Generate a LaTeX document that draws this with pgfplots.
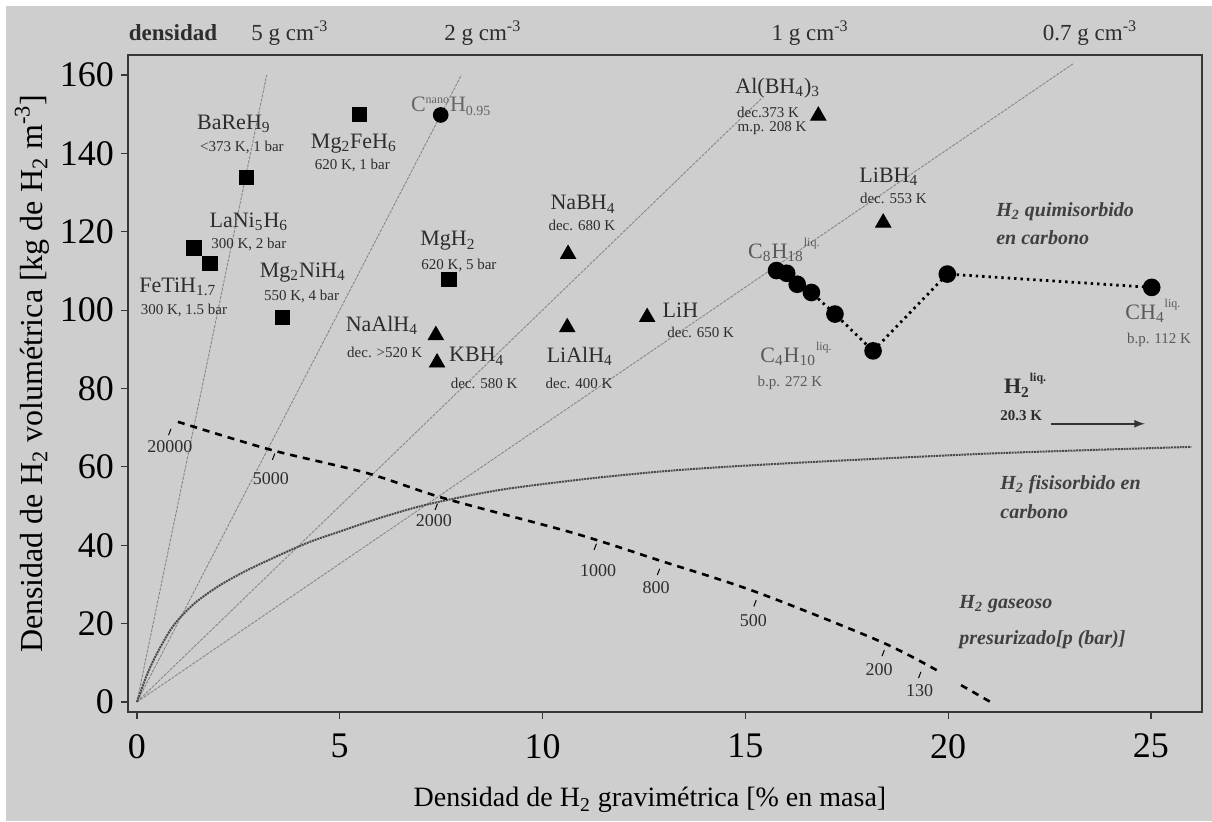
\documentclass[border=0pt]{standalone}
\usepackage{fontspec}
\setmainfont{Liberation Serif}
\usepackage{pgfplots}
\pgfplotsset{compat=1.18}
\definecolor{bg}{RGB}{206,206,206}
\definecolor{frame}{RGB}{55,55,55}
\definecolor{lab}{RGB}{45,45,45}
\definecolor{note}{RGB}{64,64,64}
\definecolor{dens}{RGB}{135,135,135}
\definecolor{phys}{RGB}{75,75,75}

\newcommand{\nm}{\fontsize{11}{12}\selectfont}
\newcommand{\cond}{\fontsize{7.5}{8}\selectfont}
\newcommand{\prs}{\fontsize{9}{10}\selectfont}
\newcommand{\itb}{\fontsize{10}{11}\selectfont\bfseries\itshape}

\begin{document}
\begin{tikzpicture}
\path[use as bounding box] (-64pt,-54.5pt) rectangle (542pt,356pt);
\fill[bg] (-61pt,-54.5pt) rectangle (542pt,353pt);
\begin{axis}[
  scale only axis, width=537pt, height=328.5pt,
  at={(0,0)}, anchor=south west,
  xmin=-0.22, xmax=26.26, ymin=-2.55, ymax=165.1,
  clip=false,
  axis line style={frame, line width=1pt},
  xtick={0,5,...,25}, ytick={0,20,...,160},
  tick align=outside, tick pos=left, major tick length=3.5pt,
  tick style={frame, line width=0.6pt},
  ticklabel style={font=\fontsize{18}{20}\selectfont},
  xticklabel style={yshift=-4pt},
  /pgf/number format/assume math mode=true,
]
% density lines
\addplot[dens, line width=0.45pt, dash pattern=on 1.5pt off 0.6pt] coordinates {(0,0) (3.2,160)};
\addplot[dens, line width=0.45pt, dash pattern=on 1.5pt off 0.6pt] coordinates {(0,0) (8.0,160)};
\addplot[dens, line width=0.45pt, dash pattern=on 1.5pt off 0.6pt] coordinates {(0,0) (15.4,154)};
\addplot[dens, line width=0.45pt, dash pattern=on 1.5pt off 0.6pt] coordinates {(0,0) (23.1,163)};

% physisorbed H2 on carbon
\addplot[phys, line width=1pt, dash pattern=on 1pt off 0.4pt, smooth] coordinates {
  (0,0) (0.25,7) (0.5,12.5) (0.9,19.5) (1.4,25) (2,29.5) (2.6,33) (3.2,36)
  (4.2,40.6) (5,43.5) (6,47) (7,50) (8,52.3) (9,54.2) (10,55.6) (11.4,57.3)
  (13,58.9) (14.5,60) (16.2,61) (18.5,62.2) (21,63.4) (23.5,64.3) (26,65.1)};

% pressurized gas
\addplot[black, line width=1.3pt, dash pattern=on 3.5pt off 3pt, smooth] coordinates {
  (1.01,71.5) (3.32,64.3) (5.68,58.4) (7.57,52.0) (10.77,43.1) (12.86,36.2)
  (15.26,28.1) (18.34,15.4) (19.79,7.7)};
\addplot[black, line width=1.3pt, dash pattern=on 3.5pt off 3pt] coordinates {(20.32,4.3) (21.03,0.1)};
% pressure ticks
\addplot[black, line width=0.5pt] coordinates {(0.78,68.1) (0.84,69.7)};
\addplot[black, line width=0.5pt] coordinates {(3.34,61.8) (3.40,63.4)};
\addplot[black, line width=0.5pt] coordinates {(7.35,49.0) (7.41,50.6)};
\addplot[black, line width=0.5pt] coordinates {(11.27,38.8) (11.33,40.4)};
\addplot[black, line width=0.5pt] coordinates {(12.83,32.4) (12.89,34.0)};
\addplot[black, line width=0.5pt] coordinates {(15.21,24.4) (15.27,26.0)};
\addplot[black, line width=0.5pt] coordinates {(18.37,11.7) (18.43,13.3)};
\addplot[black, line width=0.5pt] coordinates {(19.27,6.1) (19.33,7.7)};

% hydrocarbons
\addplot[black, line width=1.4pt, dash pattern=on 1.2pt off 2pt, mark=*, mark size=3.7pt,
  mark options={solid}] coordinates {
  (15.77,110.1) (16.02,109.4) (16.28,106.6) (16.63,104.5) (17.21,99.0)
  (18.15,89.6) (19.98,109.2) (25.02,105.8)};

% metal hydrides (squares)
\addplot[only marks, mark=square*, mark size=3.6pt, black] coordinates {
  (2.70,133.9) (5.49,149.9) (1.40,115.9) (1.80,111.9) (3.59,98.2) (7.69,107.9)};
% complex hydrides (triangles)
\addplot[only marks, mark=triangle*, mark size=4.4pt, black] coordinates {
  (16.80,149.6) (10.63,114.3) (7.37,93.6) (7.40,86.6) (10.61,95.6) (12.58,98.2) (18.40,122.3)};
% C nano H
\addplot[only marks, mark=*, mark size=3.7pt, black] coordinates {(7.49,149.8)};

% H2 liquid arrow
\addplot[black!80, line width=0.8pt, -latex] coordinates {(22.53,71) (24.85,71)};

% top density labels
\node[font=\fontsize{11.5}{12}\selectfont\bfseries, lab] at (axis cs:0.89,170.7) {densidad};
\node[font=\fontsize{11.5}{12}\selectfont, lab] at (axis cs:3.77,170.7) {5 g cm\textsuperscript{-3}};
\node[font=\fontsize{11.5}{12}\selectfont, lab] at (axis cs:8.53,170.7) {2 g cm\textsuperscript{-3}};
\node[font=\fontsize{11.5}{12}\selectfont, lab] at (axis cs:16.6,170.7) {1 g cm\textsuperscript{-3}};
\node[font=\fontsize{11.5}{12}\selectfont, lab] at (axis cs:23.5,170.7) {0.7 g cm\textsuperscript{-3}};

% compound labels
\node[font=\nm, lab] at (axis cs:2.39,147.6) {BaReH\textsubscript{9}};
\node[font=\cond, lab] at (axis cs:2.59,141.4) {<373 K, 1 bar};
\node[font=\nm, lab] at (axis cs:5.35,142.6) {Mg\textsubscript{2}FeH\textsubscript{6}};
\node[font=\cond, lab] at (axis cs:5.31,136.8) {620 K, 1 bar};
\node[font=\nm, black!60] at (axis cs:7.75,152.0) {C\textsuperscript{\fontsize{6}{6}\selectfont nano}H\textsubscript{\fontsize{7}{7}\selectfont 0.95}};
\node[font=\nm, lab] at (axis cs:2.76,122.6) {LaNi\textsubscript{5}H\textsubscript{6}};
\node[font=\cond, lab] at (axis cs:2.76,116.8) {300 K, 2 bar};
\node[font=\nm, lab] at (axis cs:1.01,106.0) {FeTiH\textsubscript{1.7}};
\node[font=\cond, lab] at (axis cs:1.16,99.8) {300 K, 1.5 bar};
\node[font=\nm, lab] at (axis cs:4.09,109.6) {Mg\textsubscript{2}NiH\textsubscript{4}};
\node[font=\cond, lab] at (axis cs:4.06,103.6) {550 K, 4 bar};
\node[font=\nm, lab] at (axis cs:7.67,117.6) {MgH\textsubscript{2}};
\node[font=\cond, lab] at (axis cs:7.94,111.3) {620 K, 5 bar};
\node[font=\nm, lab] at (axis cs:11.0,127.0) {NaBH\textsubscript{4}};
\node[font=\cond, lab] at (axis cs:10.97,121.5) {dec. 680 K};
\node[font=\nm, lab] at (axis cs:6.04,96.2) {NaAlH\textsubscript{4}};
\node[font=\cond, lab] at (axis cs:6.11,89.3) {dec. >520 K};
\node[font=\nm, lab] at (axis cs:8.38,88.2) {KBH\textsubscript{4}};
\node[font=\cond, lab] at (axis cs:8.56,81.4) {dec. 580 K};
\node[font=\nm, lab] at (axis cs:10.92,88.2) {LiAlH\textsubscript{4}};
\node[font=\cond, lab] at (axis cs:10.9,81.4) {dec. 400 K};
\node[font=\nm, lab] at (axis cs:13.4,100.0) {LiH};
\node[font=\cond, lab] at (axis cs:13.9,94.2) {dec. 650 K};
\node[font=\nm, lab] at (axis cs:15.8,156.6) {Al(BH\textsubscript{4})\textsubscript{3}};
\node[font=\cond, lab] at (axis cs:15.56,150.5) {dec.373 K};
\node[font=\cond, lab] at (axis cs:15.66,146.5) {m.p. 208 K};
\node[font=\nm, lab] at (axis cs:18.54,134.0) {LiBH\textsubscript{4}};
\node[font=\cond, lab] at (axis cs:18.65,128.6) {dec. 553 K};

% hydrocarbon labels
\node[font=\nm, black!65] at (axis cs:15.95,115.3) {C\textsubscript{8}H\textsubscript{18}\raisebox{1.2ex}{\fontsize{6}{6}\selectfont liq.}};
\node[font=\nm, black!65] at (axis cs:16.25,88.8) {C\textsubscript{4}H\textsubscript{10}\raisebox{1.2ex}{\fontsize{6}{6}\selectfont liq.}};
\node[font=\cond, black!65] at (axis cs:16.1,81.4) {b.p. 272 K};
\node[font=\nm, black!65] at (axis cs:25.05,99.8) {CH\textsubscript{4}\raisebox{1.2ex}{\fontsize{6}{6}\selectfont liq.}};
\node[font=\cond, black!65] at (axis cs:25.2,92.4) {b.p. 112 K};
\node[font=\nm\bfseries, lab] at (axis cs:21.9,80.8) {H\textsubscript{2}\raisebox{1.2ex}{\fontsize{6}{6}\selectfont liq.}};
\node[font=\cond\bfseries, lab] at (axis cs:21.8,73.0) {20.3 K};

% region notes
\node[font=\itb, note, anchor=west, inner sep=0pt] at (axis cs:21.18,125.0) {H\textsubscript{2} quimisorbido};
\node[font=\itb, note, anchor=west, inner sep=0pt] at (axis cs:21.18,118.4) {en carbono};
\node[font=\itb, note, anchor=west, inner sep=0pt] at (axis cs:21.28,55.4) {H\textsubscript{2} fisisorbido en};
\node[font=\itb, note, anchor=west, inner sep=0pt] at (axis cs:21.28,48.6) {carbono};
\node[font=\itb, note, anchor=west, inner sep=0pt] at (axis cs:20.27,25.0) {H\textsubscript{2} gaseoso};
\node[font=\itb, note, anchor=west, inner sep=0pt] at (axis cs:20.27,15.8) {presurizado[p (bar)]};

% pressure labels
\node[font=\prs, lab] at (axis cs:0.81,65.3) {20000};
\node[font=\prs, lab] at (axis cs:3.30,56.9) {5000};
\node[font=\prs, lab] at (axis cs:7.32,46.2) {2000};
\node[font=\prs, lab] at (axis cs:11.37,33.5) {1000};
\node[font=\prs, lab] at (axis cs:12.80,29.3) {800};
\node[font=\prs, lab] at (axis cs:15.20,20.7) {500};
\node[font=\prs, lab] at (axis cs:18.30,8.2) {200};
\node[font=\prs, lab] at (axis cs:19.30,3.0) {130};

% axis titles
\node[font=\fontsize{14}{16}\selectfont, black, yshift=-44pt] at (rel axis cs:0.486,0) {Densidad de H\textsubscript{2} gravimétrica [\% en masa]};
\node[font=\fontsize{16}{18}\selectfont, black, xshift=-48pt, rotate=90] at (rel axis cs:0,0.515) {Densidad de H\textsubscript{2} volumétrica [kg de H\textsubscript{2} m\textsuperscript{-3}]};
\end{axis}
\end{tikzpicture}
\end{document}
